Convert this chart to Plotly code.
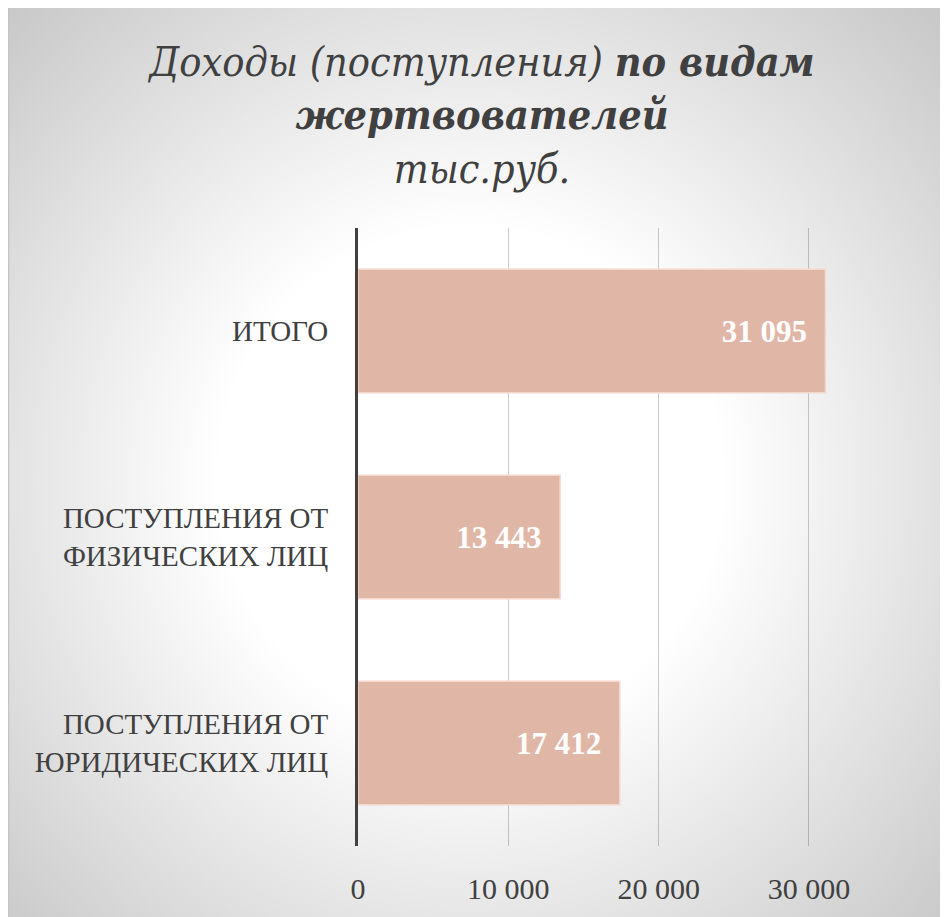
import plotly.graph_objects as go
import base64

categories = ["ИТОГО", "ПОСТУПЛЕНИЯ ОТ<br>ФИЗИЧЕСКИХ ЛИЦ", "ПОСТУПЛЕНИЯ ОТ<br>ЮРИДИЧЕСКИХ ЛИЦ"]
values = [31095, 13443, 17412]
tick_vals = [0, 10000, 20000, 30000]

W, H = 948, 917
L, R, T, B = 350, 117, 220, 79
pw, ph = W - L - R, H - T - B

svg = f'''<svg xmlns="http://www.w3.org/2000/svg" width="{W}" height="{H}" viewBox="0 0 {W} {H}">
<defs><radialGradient id="g" cx="462" cy="472" r="660" gradientUnits="userSpaceOnUse">
<stop offset="0" stop-color="#ffffff"/><stop offset="0.38" stop-color="#ffffff"/>
<stop offset="1" stop-color="#c8c8c8"/></radialGradient></defs>
<rect x="0" y="0" width="{W}" height="{H}" fill="url(#g)"/>
<rect x="0.5" y="-1" width="{W}" height="{H + 2}" fill="none" stroke="#c4c4c4" stroke-width="1.5"/></svg>'''
src = "data:image/svg+xml;base64," + base64.b64encode(svg.encode()).decode()

fig = go.Figure()
fig.add_trace(go.Bar(
    y=categories, x=values, orientation="h",
    marker=dict(color="#e0b6a7", line=dict(color="#f3d6cc", width=1.5)),
    texttemplate="<b>%{x:,.0f}</b>\u00a0\u00a0",
    textposition="inside", insidetextanchor="end",
    textfont=dict(family="Liberation Serif", size=31, color="white"),
    width=0.6, hoverinfo="skip",
))

fig.add_layout_image(dict(
    source=src, xref="paper", yref="paper",
    x=-L / pw, y=(H - B) / ph,
    sizex=W / pw, sizey=H / ph,
    xanchor="left", yanchor="top", sizing="stretch", layer="below",
))

fig.update_layout(
    width=W, height=H,
    margin=dict(l=L, r=R, t=T, b=B, pad=0),
    paper_bgcolor="white", plot_bgcolor="rgba(0,0,0,0)",
    separators=". ",
    showlegend=False,
    title=dict(
        text="<i>Доходы (поступления) <b>по видам<br>жертвователей</b><br>тыс.руб.</i>",
        x=0.5, xanchor="center", y=1 - 68 / H, yanchor="top",
        font=dict(family="DejaVu Serif Condensed, Liberation Serif", size=41, color="#404040"),
    ),
    xaxis=dict(
        range=[0, 32000], tickvals=tick_vals, tickformat=",.0f",
        showgrid=True, gridcolor="rgba(0,0,0,0.2)", gridwidth=1,
        zeroline=False, showline=False,
        ticks="outside", ticklen=16, tickcolor="rgba(0,0,0,0)",
        tickfont=dict(family="Liberation Serif", size=30, color="#404040"),
        fixedrange=True,
    ),
    yaxis=dict(
        autorange="reversed", showgrid=False, zeroline=False,
        showline=True, linecolor="#404040", linewidth=3,
        ticks="outside", ticklen=21, tickcolor="rgba(0,0,0,0)",
        tickfont=dict(family="Liberation Serif", size=29, color="#404040"),
        fixedrange=True,
    ),
)

fig.write_html("out.html")
